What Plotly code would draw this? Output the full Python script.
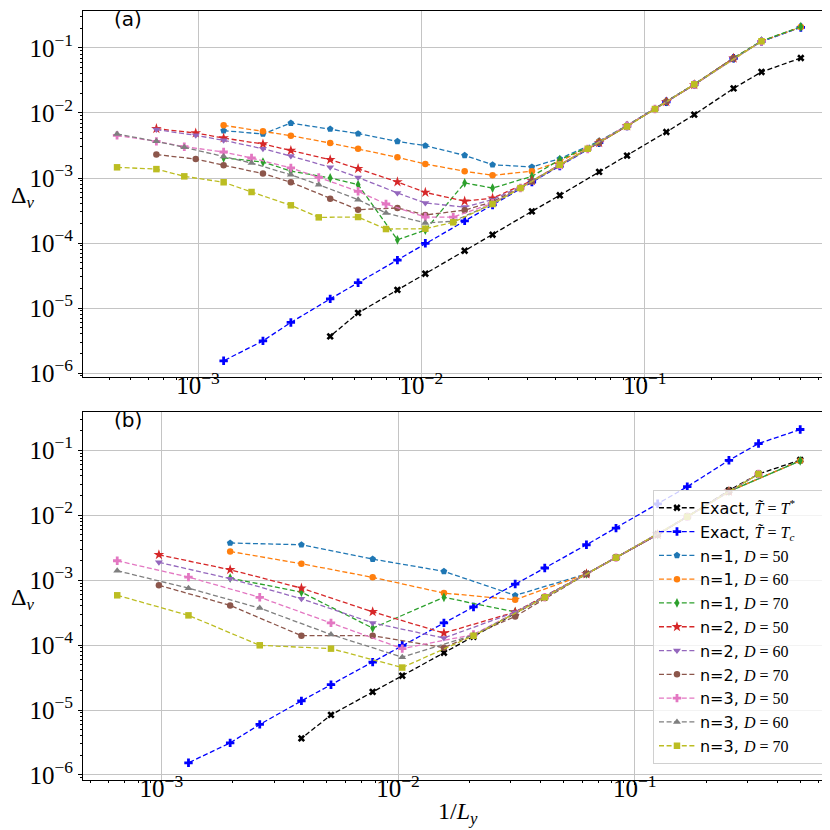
import plotly.graph_objects as go

# system sizes L_y for each data set
L_star = [2, 3, 4, 6, 8, 12, 16, 24, 32, 48, 64, 96, 128, 192, 256]
L_tc = [2, 3, 4, 6, 8, 12, 16, 24, 32, 48, 64, 96, 128, 192, 256, 384, 512, 768]
L_n1_a = [768, 512, 384, 256, 192, 128, 96, 64, 48, 32, 24, 16, 12, 8, 6, 4, 3, 2]
L_n2_a = [1536, 1024, 768, 512, 384, 256, 192, 128, 96, 64, 48, 32, 24, 16, 12, 8, 6, 4]
L_n3_a = [2304, 1536, 1152, 768, 576, 384, 288, 192, 144, 96, 72, 48, 36, 24, 18, 12, 9, 6, 3]
L_n1_b = [512, 256, 128, 64, 32, 16, 8, 4, 2]
L_n2_b = [1024, 512, 256, 128, 64, 32, 16, 8, 4]
L_n3_b = [1536, 768, 384, 192, 96, 48, 24, 12, 6, 3]

# exact results (same in both panels)
exact_star = [0.0702, 0.0428, 0.0239, 9.42e-3, 5.1e-3, 2.21e-3, 1.24e-3, 5.42e-4, 3.07e-4,
              1.34e-4, 7.6e-5, 3.37e-5, 1.9e-5, 8.4e-6, 3.66e-6]
exact_tc = [0.207, 0.126, 0.0695, 0.0273, 0.0149, 6.3e-3, 3.49e-3, 1.53e-3, 8.67e-4, 3.85e-4,
            2.19e-4, 9.9e-5, 5.45e-5, 2.45e-5, 1.38e-5, 6.0e-6, 3.12e-6, 1.54e-6]

# panel (a)
a_n1_D50 = [5.35e-3, 4.75e-3, 7.0e-3, 5.67e-3, 4.81e-3, 3.66e-3, 3.14e-3, 2.23e-3, 1.60e-3, 1.48e-3,
            1.98e-3, 3.7e-3, 6.4e-3, 0.0151, 0.0276, 0.0702, 0.127, 0.21]
a_n1_D60 = [6.46e-3, 5.22e-3, 4.48e-3, 3.45e-3, 2.82e-3, 2.08e-3, 1.64e-3, 1.27e-3, 1.10e-3, 1.27e-3,
            1.80e-3, 3.6e-3, 6.35e-3, 0.015, 0.0275, 0.070, 0.127, 0.21]
a_n1_D70 = [2.05e-3, 1.76e-3, 1.28e-3, 1.0e-3, 7.9e-4, 1.12e-4, 1.58e-4, 8.4e-4, 7.0e-4, 1.06e-3,
            1.91e-3, 3.55e-3, 6.35e-3, 0.015, 0.0275, 0.070, 0.128, 0.212]
a_n2_D50 = [5.74e-3, 4.92e-3, 4.12e-3, 3.33e-3, 2.65e-3, 1.91e-3, 1.39e-3, 8.7e-4, 6.0e-4, 4.4e-4,
            4.9e-4, 9.1e-4, 1.6e-3, 3.5e-3, 6.3e-3, 0.0149, 0.0272, 0.0695]
a_n2_D60 = [5.55e-3, 4.53e-3, 3.8e-3, 2.82e-3, 2.18e-3, 1.46e-3, 1.02e-3, 5.88e-4, 4.12e-4, 3.57e-4,
            4.64e-4, 8.9e-4, 1.58e-3, 3.5e-3, 6.3e-3, 0.0149, 0.0272, 0.0695]
a_n2_D70 = [2.29e-3, 1.96e-3, 1.57e-3, 1.17e-3, 8.6e-4, 4.81e-4, 3.26e-4, 3.46e-4, 2.7e-4, 3.2e-4,
            4.3e-4, 8.8e-4, 1.58e-3, 3.5e-3, 6.3e-3, 0.0149, 0.0272, 0.0695]
a_n3_D50 = [4.53e-3, 3.66e-3, 3.03e-3, 2.51e-3, 2.03e-3, 1.43e-3, 1.02e-3, 6.24e-4, 3.98e-4, 2.51e-4,
            2.5e-4, 4.1e-4, 7.0e-4, 1.58e-3, 2.8e-3, 6.3e-3, 0.0115, 0.0274, 0.126]
a_n3_D60 = [4.75e-3, 3.66e-3, 2.96e-3, 2.15e-3, 1.70e-3, 1.12e-3, 7.9e-4, 4.64e-4, 2.9e-4, 2.03e-4,
            2.16e-4, 4.0e-4, 7.0e-4, 1.58e-3, 2.8e-3, 6.3e-3, 0.0115, 0.0275, 0.127]
a_n3_D70 = [1.46e-3, 1.37e-3, 1.06e-3, 8.6e-4, 6.09e-4, 3.8e-4, 2.48e-4, 2.51e-4, 1.64e-4, 1.66e-4,
            2.08e-4, 3.98e-4, 7.0e-4, 1.6e-3, 2.82e-3, 6.2e-3, 0.0115, 0.0276, 0.127]

# panel (b)
b_n1_D50 = [3.71e-3, 3.49e-3, 2.1e-3, 1.36e-3, 5.8e-4, 1.24e-3, 5.0e-3, 0.0231, 0.0685]
b_n1_D60 = [2.75e-3, 1.78e-3, 1.1e-3, 6.3e-4, 4.98e-4, 1.24e-3, 5.0e-3, 0.0231, 0.0685]
b_n1_D70 = [1.07e-3, 6.5e-4, 1.82e-4, 5.42e-4, 3.22e-4, 1.24e-3, 5.0e-3, 0.0231, 0.0685]
b_n2_D50 = [2.45e-3, 1.44e-3, 7.5e-4, 3.24e-4, 1.53e-4, 3.22e-4, 1.24e-3, 5.0e-3, 0.0231]
b_n2_D60 = [1.87e-3, 1.05e-3, 5.15e-4, 2.19e-4, 1.28e-4, 3.2e-4, 1.24e-3, 5.0e-3, 0.0231]
b_n2_D70 = [8.3e-4, 4.07e-4, 1.39e-4, 1.39e-4, 9.1e-5, 2.75e-4, 1.24e-3, 5.0e-3, 0.0231]
b_n3_D50 = [1.98e-3, 1.11e-3, 5.42e-4, 2.19e-4, 8.8e-5, 1.45e-4, 5.42e-4, 2.21e-3, 9.4e-3, 0.0428]
b_n3_D60 = [1.39e-3, 7.5e-4, 3.7e-4, 1.45e-4, 6.5e-5, 1.42e-4, 5.42e-4, 2.21e-3, 9.4e-3, 0.0428]
b_n3_D70 = [5.82e-4, 2.86e-4, 9.9e-5, 8.8e-5, 4.5e-5, 1.39e-4, 5.42e-4, 2.21e-3, 9.4e-3, 0.0428]

SERIF = "Liberation Serif"
SANS = "DejaVu Sans"
PAD = "\u2002\u2002\u2002"  # trailing room inside the legend box


def mth(s):
    return '<span style="font-family:%s">%s</span>' % (SERIF, s)


names = [
    "Exact, " + mth("<i>T\u0303</i> = <i>T</i><sup>*</sup>") + PAD,
    "Exact, " + mth("<i>T\u0303</i> = <i>T</i><sub><i>c</i></sub>") + PAD,
]
for n in (1, 2, 3):
    for D in (50, 60, 70):
        names.append("n=%d, " % n + mth("<i>D</i> = %d" % D) + PAD)

colors = ["black", "#0000ff", "#1f77b4", "#ff7f0e", "#2ca02c", "#d62728", "#9467bd",
          "#8c564b", "#e377c2", "#7f7f7f", "#bcbd22"]
symbols = ["x", "cross", "pentagon", "circle", "diamond-tall", "star", "triangle-down",
           "circle", "cross", "triangle-up", "square"]
msize = [6.5, 7, 7, 6.5, 7, 8, 7, 6.5, 7, 7, 6.5]

panel_a = [(L_star, exact_star), (L_tc, exact_tc),
           (L_n1_a, a_n1_D50), (L_n1_a, a_n1_D60), (L_n1_a, a_n1_D70),
           (L_n2_a, a_n2_D50), (L_n2_a, a_n2_D60), (L_n2_a, a_n2_D70),
           (L_n3_a, a_n3_D50), (L_n3_a, a_n3_D60), (L_n3_a, a_n3_D70)]
panel_b = [(L_star, exact_star), (L_tc, exact_tc),
           (L_n1_b, b_n1_D50), (L_n1_b, b_n1_D60), (L_n1_b, b_n1_D70),
           (L_n2_b, b_n2_D50), (L_n2_b, b_n2_D60), (L_n2_b, b_n2_D70),
           (L_n3_b, b_n3_D50), (L_n3_b, b_n3_D60), (L_n3_b, b_n3_D70)]

fig = go.Figure()
for panel, (xa, ya, show) in ((panel_a, ("x", "y", False)), (panel_b, ("x2", "y2", True))):
    for i, (L, d) in enumerate(panel):
        fig.add_trace(go.Scatter(
            x=[1.0 / l for l in L], y=d, xaxis=xa, yaxis=ya,
            mode="lines+markers", name=names[i], showlegend=show, legendgroup="g%d" % i,
            line=dict(color=colors[i], width=1.3, dash="5px,2.6px"),
            marker=dict(symbol=symbols[i], size=msize[i], color=colors[i], line=dict(width=0)),
        ))


def sup(e):
    return "10<sup>\u2212%d</sup>" % (-e)


xt = [10.0 ** e for e in (-3, -2, -1)]
yt = [10.0 ** e for e in range(-6, 0)]
xminor = [m * 10.0 ** e for e in range(-4, 0) for m in range(2, 10)]
yminor = [m * 10.0 ** e for e in range(-7, 0) for m in range(2, 10)]

axis_common = dict(
    type="log", showline=True, mirror=True, linecolor="black", linewidth=1,
    ticks="outside", ticklen=4, tickcolor="black", showgrid=True, gridcolor="#c4c4c4",
    gridwidth=0.8, zeroline=False, automargin=False,
    tickfont=dict(family=SERIF, size=25, color="black"),
)
xax = dict(axis_common, tickmode="array", tickvals=xt, ticktext=[sup(e) for e in (-3, -2, -1)],
           ticklabelstandoff=-18,
           minor=dict(tickmode="array", tickvals=xminor, ticks="outside", ticklen=2,
                      tickcolor="black", showgrid=False))
yax = dict(axis_common, tickmode="array", tickvals=yt, ticktext=[sup(e) for e in range(-6, 0)],
           minor=dict(tickmode="array", tickvals=yminor, ticks="outside", ticklen=2,
                      tickcolor="black", showgrid=False))

title_font = dict(family=SERIF, size=24, color="black")

fig.update_layout(
    width=830, height=830,
    margin=dict(l=75, r=3, t=3, b=58),
    paper_bgcolor="white", plot_bgcolor="white",
    font=dict(family=SANS, size=14, color="black"),
    xaxis=dict(xax, domain=[0, 1], range=[-3.515, -0.148], anchor="y"),
    yaxis=dict(yax, domain=[0.524, 1.0], range=[-6.062, -0.431], anchor="x"),
    xaxis2=dict(xax, domain=[0, 1], range=[-3.331, -0.154], anchor="y2"),
    yaxis2=dict(yax, domain=[0, 0.4785], range=[-6.077, -0.415], anchor="x2"),
    legend=dict(x=0.988, y=0.021, xanchor="right", yanchor="bottom",
                bgcolor="rgba(255,255,255,0.8)", bordercolor="#d0d0d0", borderwidth=1,
                font=dict(family=SANS, size=16, color="black"), itemwidth=36,
                tracegroupgap=0),
    annotations=[
        dict(text="(a)", xref="paper", yref="paper", x=0.06, y=0.99, showarrow=False,
             xanchor="center", yanchor="middle", font=dict(family=SANS, size=20, color="black")),
        dict(text="(b)", xref="paper", yref="paper", x=0.06, y=0.468, showarrow=False,
             xanchor="center", yanchor="middle", font=dict(family=SANS, size=20, color="black")),
        dict(text="\u0394<sub><i>\u03bd</i></sub>", xref="paper", yref="paper", x=-0.08, y=0.758,
             showarrow=False, xanchor="center", yanchor="middle", font=title_font),
        dict(text="\u0394<sub><i>\u03bd</i></sub>", xref="paper", yref="paper", x=-0.08, y=0.236,
             showarrow=False, xanchor="center", yanchor="middle", font=title_font),
        dict(text="1/<i>L</i><sub><i>y</i></sub>", xref="paper", yref="paper", x=0.499, y=-0.043,
             showarrow=False, xanchor="center", yanchor="middle", font=title_font),
    ],
)

fig.write_html("out.html")
